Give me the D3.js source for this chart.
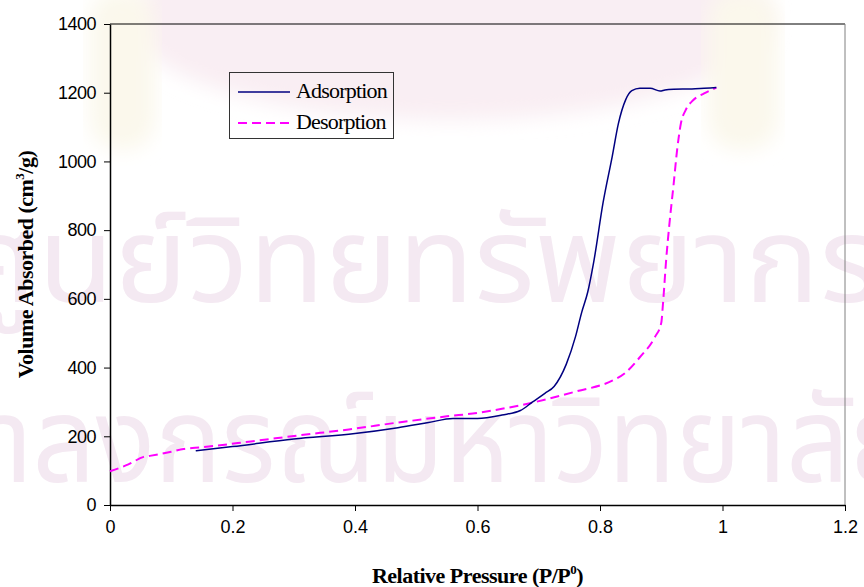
<!DOCTYPE html>
<html>
<head>
<meta charset="utf-8">
<script src="https://cdn.jsdelivr.net/npm/d3@7"></script>
<style>
  body { margin: 0; background: #fff; }
  svg { display: block; }
</style>
</head>
<body>
<div id="chart"></div>
<script>
// données
const adsP = [0.14, 0.2, 0.3, 0.4, 0.47, 0.52, 0.56, 0.6, 0.64, 0.67, 0.69, 0.71, 0.725, 0.745, 0.76, 0.77, 0.78, 0.79, 0.805, 0.82, 0.83, 0.842, 0.852, 0.865, 0.882, 0.898, 0.906, 0.92, 0.95, 0.97, 0.99]
const adsV = [158, 170, 192, 208, 225, 240, 252, 252, 262, 275, 300, 325, 345, 410, 490, 560, 620, 710, 880, 1015, 1110, 1180, 1206, 1213, 1213, 1205, 1208, 1210, 1211, 1213, 1215]
const desP = [0, 0.03, 0.055, 0.065, 0.1, 0.12, 0.15, 0.23, 0.31, 0.39, 0.47, 0.55, 0.6, 0.64, 0.69, 0.76, 0.82, 0.84, 0.865, 0.89, 0.9, 0.903, 0.908, 0.914, 0.92, 0.926, 0.932, 0.94, 0.952, 0.97, 0.99]
const desV = [98, 118, 140, 143, 155, 163, 168, 185, 203, 220, 240, 258, 268, 280, 298, 330, 362, 383, 430, 490, 530, 590, 713, 830, 930, 1035, 1110, 1150, 1178, 1198, 1215]
const xTicks = [0, 0.2, 0.4, 0.6, 0.8, 1, 1.2]
const yTicks = [0, 200, 400, 600, 800, 1000, 1200, 1400]
const seriesNames = ["Adsorption", "Desorption"]

const W = 864, H = 587
const mLeft = 110, mRight = 845, mTop = 24, mBottom = 505

const svg = d3.select("#chart").append("svg")
  .attr("width", W)
  .attr("height", H)

// filigrane (fond)
const defs = svg.append("defs")
defs.append("filter").attr("id", "blur")
  .append("feGaussianBlur").attr("stdDeviation", 10)

const wm = svg.append("g")
wm.append("ellipse")
  .attr("cx", 450).attr("cy", 20).attr("rx", 320).attr("ry", 100)
  .attr("fill", "#f9eef3")
  .attr("filter", "url(#blur)")
wm.append("rect").attr("x", 90).attr("y", -10).attr("width", 65).attr("height", 160).attr("rx", 30)
  .attr("fill", "#fbf8ec").attr("filter", "url(#blur)")
wm.append("rect").attr("x", 708).attr("y", -10).attr("width", 70).attr("height", 160).attr("rx", 30)
  .attr("fill", "#fbf8ec").attr("filter", "url(#blur)")

wm.append("text")
  .attr("x", -40).attr("y", 302)
  .attr("textLength", 920).attr("lengthAdjust", "spacingAndGlyphs")
  .style("font-family", "'Noto Sans Thai', 'Noto Sans', 'Loma', sans-serif")
  .style("font-size", "120px")
  .attr("fill", "#f4e9f2")
  .text("ศูนย์วิทยทรัพยากร")
wm.append("text")
  .attr("x", -145).attr("y", 482)
  .attr("textLength", 1060).attr("lengthAdjust", "spacingAndGlyphs")
  .style("font-family", "'Noto Sans Thai', 'Noto Sans', 'Loma', sans-serif")
  .style("font-size", "120px")
  .attr("fill", "#f4e9f2")
  .text("จุฬาลงกรณ์มหาวิทยาลัย")

// échelles
const x = d3.scaleLinear().domain([0, 1.2]).range([mLeft, mRight])
const y = d3.scaleLinear().domain([0, 1400]).range([mBottom, mTop])

// cadre de la zone de tracé
svg.append("line").attr("x1", mLeft).attr("x2", mRight).attr("y1", mTop).attr("y2", mTop)
  .attr("stroke", "#000").attr("stroke-width", 1)
svg.append("line").attr("x1", mRight).attr("x2", mRight).attr("y1", mTop).attr("y2", mBottom)
  .attr("stroke", "#808080").attr("stroke-width", 1)

// axe X
const gx = svg.append("g")
  .attr("transform", `translate(0,${mBottom})`)
  .call(d3.axisBottom(x).tickValues(xTicks).tickSize(6).tickPadding(9).tickSizeOuter(0).tickFormat(d3.format("~g")))
gx.select(".domain").attr("stroke", "#000").attr("stroke-width", 1.5)
gx.selectAll(".tick line").attr("stroke", "#000")
gx.selectAll("text")
  .style("font-family", "'Liberation Sans', Arial, sans-serif")
  .style("font-size", "18px")
  .attr("fill", "#000")

// axe Y
const gy = svg.append("g")
  .attr("transform", `translate(${mLeft},0)`)
  .call(d3.axisLeft(y).tickValues(yTicks).tickSize(6).tickPadding(8).tickSizeOuter(0).tickFormat(d3.format("d")))
gy.select(".domain").attr("stroke", "#000").attr("stroke-width", 1.5)
gy.selectAll(".tick line").attr("stroke", "#000")
gy.selectAll("text")
  .style("font-family", "'Liberation Sans', Arial, sans-serif")
  .style("font-size", "18px")
  .style("letter-spacing", "-0.5px")
  .attr("fill", "#000")

// titres des axes
const xt = svg.append("text")
  .attr("x", (mLeft + mRight) / 2).attr("y", 583)
  .attr("text-anchor", "middle")
  .style("font-family", "'Liberation Serif', 'Times New Roman', serif")
  .style("font-weight", "bold")
  .style("font-size", "22px")
  .style("letter-spacing", "-0.5px")
xt.append("tspan").text("Relative Pressure (P/P")
xt.append("tspan").attr("dy", -9).style("font-size", "13px").text("0")
xt.append("tspan").attr("dy", 9).text(")")

const yt = svg.append("text")
  .attr("transform", `translate(33,${(mTop + mBottom) / 2}) rotate(-90)`)
  .attr("text-anchor", "middle")
  .style("font-family", "'Liberation Serif', 'Times New Roman', serif")
  .style("font-weight", "bold")
  .style("font-size", "22px")
  .style("letter-spacing", "-0.5px")
yt.append("tspan").text("Volume Absorbed (cm")
yt.append("tspan").attr("dy", -9).style("font-size", "13px").text("3")
yt.append("tspan").attr("dy", 9).text("/g)")

// courbes
const line = d3.line()
  .x(d => x(d[0]))
  .y(d => y(d[1]))
  .curve(d3.curveMonotoneX)

const ads = adsP.map((p, i) => [p, adsV[i]])
const des = desP.map((p, i) => [p, desV[i]])

svg.append("path")
  .datum(des)
  .attr("d", line)
  .attr("fill", "none")
  .attr("stroke", "#ff00ff")
  .attr("stroke-width", 2)
  .attr("stroke-dasharray", "9,5")

svg.append("path")
  .datum(ads)
  .attr("d", line)
  .attr("fill", "none")
  .attr("stroke", "#000080")
  .attr("stroke-width", 1.5)

// légende
const leg = svg.append("g")
leg.append("rect")
  .attr("x", 229.5).attr("y", 72.5).attr("width", 164).attr("height", 66)
  .attr("fill", "none").attr("stroke", "#333").attr("stroke-width", 1)
const styles = [
  { color: "#000080", width: 1.5, dash: null },
  { color: "#ff00ff", width: 2, dash: "9,5" }
]
seriesNames.forEach((name, i) => {
  const ly = 92 + i * 31
  leg.append("line")
    .attr("x1", 238).attr("x2", 290).attr("y1", ly).attr("y2", ly)
    .attr("stroke", styles[i].color)
    .attr("stroke-width", styles[i].width)
    .attr("stroke-dasharray", styles[i].dash)
  leg.append("text")
    .attr("x", 296).attr("y", ly + 6)
    .style("font-family", "'Liberation Serif', 'Times New Roman', serif")
    .style("font-size", "22px")
    .style("letter-spacing", "-0.8px")
    .text(name)
})
</script>
</body>
</html>
